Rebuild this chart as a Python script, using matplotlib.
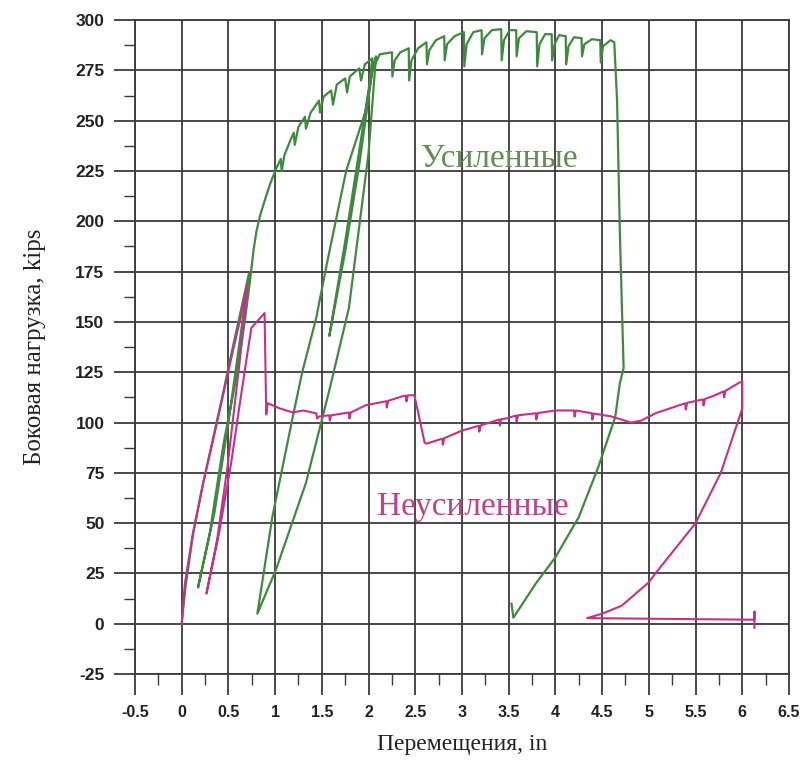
import matplotlib
matplotlib.use("Agg")
import matplotlib.pyplot as plt
from matplotlib.ticker import MultipleLocator

# ---------------- data ----------------
x_ticks = [-0.5, 0, 0.5, 1, 1.5, 2, 2.5, 3, 3.5, 4, 4.5, 5, 5.5, 6, 6.5]
x_tick_labels = ["-0.5", "0", "0.5", "1", "1.5", "2", "2.5", "3", "3.5", "4", "4.5", "5", "5.5", "6", "6.5"]
y_ticks = [-25, 0, 25, 50, 75, 100, 125, 150, 175, 200, 225, 250, 275, 300]
y_tick_labels = ["-25", "0", "25", "50", "75", "100", "125", "150", "175", "200", "225", "250", "275", "300"]

# Unstrengthened specimen (magenta)
unstr_x = [0, 0.034, 0.12, 0.23, 0.33, 0.44, 0.55, 0.64, 0.705,
           0.62, 0.49, 0.38, 0.265,
           0.40, 0.53, 0.64, 0.745, 0.887, 0.905, 0.92,
           1.05, 1.19, 1.30, 1.44, 1.45, 1.47, 1.58, 1.585, 1.60, 1.79, 1.795, 1.81,
           1.97, 2.19, 2.195, 2.21, 2.36, 2.40, 2.405, 2.42, 2.49, 2.54, 2.60, 2.62,
           2.79, 2.795, 2.81, 3.0, 3.18, 3.185, 3.20, 3.40, 3.405, 3.42, 3.47,
           3.58, 3.585, 3.60, 3.79, 3.795, 3.81, 4.0, 4.2, 4.205, 4.22, 4.39, 4.395, 4.41,
           4.6, 4.81, 4.92, 5.07, 5.39, 5.395, 5.41, 5.58, 5.585, 5.60, 5.71,
           5.80, 5.805, 5.82, 5.96, 6.0,
           6.0, 5.95, 5.77, 5.5, 5.07, 5.0, 4.71, 4.5, 4.34,
           6.13, 6.13, 6.13]
unstr_y = [0, 20, 45, 70, 90, 113, 136, 154, 169,
           130, 78, 42, 15,
           45, 80, 115, 147, 154.4, 104, 109.6,
           107, 105, 106, 104.6, 102, 103, 103.6, 101, 103.6, 105, 102, 105,
           108.6, 110.6, 107.5, 110.8, 113, 113.4, 110.5, 113.5, 113.6, 103, 90, 89.5,
           92, 89, 92.2, 96, 98.4, 95.5, 98.6, 101.5, 98.5, 101.7, 102,
           103.5, 100.5, 103.6, 104.6, 101.5, 104.7, 106, 106, 103, 106, 104.6, 101.5, 104.5,
           103, 100, 101, 104.6, 109.6, 106.5, 109.8, 111.5, 108.5, 111.7, 113.6,
           115.5, 112.5, 115.8, 119.6, 120.5,
           107, 100, 75, 50, 25, 20.6, 9, 5, 2.8,
           2.0, 6, -2]

# Strengthened specimen (green)
str_x = [0, 0.04, 0.12, 0.23, 0.33, 0.44, 0.55, 0.64, 0.72,
         0.62, 0.50, 0.35, 0.175,
         0.30, 0.45, 0.60, 0.68, 0.73, 0.77, 0.80, 0.84, 0.90, 0.95, 1.01, 1.06, 1.07, 1.10,
         1.17, 1.20, 1.21, 1.25, 1.32, 1.33, 1.38, 1.47, 1.48, 1.52, 1.60, 1.62, 1.66,
         1.75, 1.77, 1.80, 1.90, 1.92, 1.96, 2.04,
         2.00, 1.90, 1.75, 1.58,
         1.75, 1.90, 2.05, 2.08,
         2.00, 1.79, 1.58, 1.33, 1.01, 0.81,
         0.97, 1.19, 1.29, 1.44, 1.55, 1.76, 1.97, 2.04, 2.12,
         2.25, 2.255, 2.28, 2.34, 2.43, 2.435, 2.46, 2.53, 2.62, 2.625, 2.65, 2.72,
         2.81, 2.815, 2.84, 2.92, 3.02, 3.025, 3.05, 3.12, 3.21, 3.215, 3.24, 3.32,
         3.42, 3.425, 3.45, 3.51, 3.58, 3.585, 3.61, 3.69, 3.80, 3.805, 3.83, 3.89,
         3.96, 3.965, 3.99, 4.04, 4.11, 4.115, 4.14, 4.20, 4.28, 4.285, 4.31, 4.39,
         4.48, 4.485, 4.51, 4.59, 4.63,
         4.64, 4.66, 4.69, 4.73, 4.69, 4.64, 4.46, 4.25, 4.0, 3.79, 3.55, 3.53]
str_y = [0, 18, 44, 70, 91, 114, 138, 157, 174,
         140, 100, 55, 18,
         45, 90, 126, 152, 170, 186, 195, 203, 212, 219, 226, 231, 225, 233,
         241, 244, 238, 247, 252, 246, 254, 260, 254, 262, 265, 258, 268,
         271, 264, 272, 276, 270, 278, 281,
         265, 235, 190, 143,
         185, 228, 278, 282,
         234, 157, 116, 70, 27, 5,
         53, 103, 125, 152, 178, 225, 255, 275, 283,
         284, 272, 280, 284, 286, 270, 280, 286, 289, 278, 285, 290,
         292, 280, 288, 292, 294, 277, 288, 294, 295, 283, 291, 295,
         295.5, 280, 290, 295, 295, 282, 291, 294.5, 294, 277, 288, 293,
         293, 280, 288, 292.5, 292, 278, 287, 291.5, 291, 282, 288, 290.5,
         290, 279, 287, 290, 289,
         279, 260, 194, 127, 119.6, 102.7, 78, 53, 33, 20, 3, 10]

label_str = "Усиленные"
label_unstr = "Неусиленные"
x_label = "Перемещения, in"
y_label = "Боковая нагрузка, kips"

# ---------------- plot ----------------
green = "#3f8a3f"
magenta = "#c6308a"
grid_c = "#3a3a3a"

fig = plt.figure(figsize=(8.01, 7.73), dpi=100)
ax = fig.add_axes([0.1685, 0.128, 0.8165, 0.846])

ax.plot(str_x, str_y, color=green, lw=1.6, zorder=3)
ax.plot(unstr_x, unstr_y, color=magenta, lw=1.5, zorder=4)

ax.set_xlim(-0.5, 6.5)
ax.set_ylim(-25, 300)
ax.set_xticks(x_ticks)
ax.set_xticklabels(x_tick_labels)
ax.set_yticks(y_ticks)
ax.set_yticklabels(y_tick_labels)
ax.xaxis.set_minor_locator(MultipleLocator(0.25))
ax.yaxis.set_minor_locator(MultipleLocator(12.5))

ax.grid(True, which="major", color=grid_c, lw=1.3, zorder=1)
for s in ax.spines.values():
    s.set_color(grid_c)
    s.set_linewidth(1.3)

ax.tick_params(which="major", direction="out", length=15, width=1.3, color=grid_c, pad=7)
ax.tick_params(which="minor", direction="out", length=8, width=1.0, color=grid_c)
for lab in ax.get_yticklabels():
    lab.set_fontfamily("Liberation Sans")
    lab.set_fontsize(12.5)
    lab.set_fontweight("bold")
    lab.set_color("#222222")
for lab in ax.get_xticklabels():
    lab.set_fontfamily("Liberation Sans")
    lab.set_fontsize(11.5)
    lab.set_fontweight("bold")
    lab.set_color("#222222")

ax.set_xlabel(x_label, fontfamily="Liberation Serif", fontsize=17, color="#222222", labelpad=10)
ax.set_ylabel(y_label, fontfamily="Liberation Serif", fontsize=18, color="#222222", labelpad=21)

ax.text(3.40, 231, label_str, fontfamily="Liberation Serif", fontsize=24,
        color="#5f8f52", ha="center", va="center", zorder=5)
ax.text(3.12, 58, label_unstr, fontfamily="Liberation Serif", fontsize=24,
        color="#c0408e", ha="center", va="center", zorder=5)

fig.savefig("out.png", dpi=100)
